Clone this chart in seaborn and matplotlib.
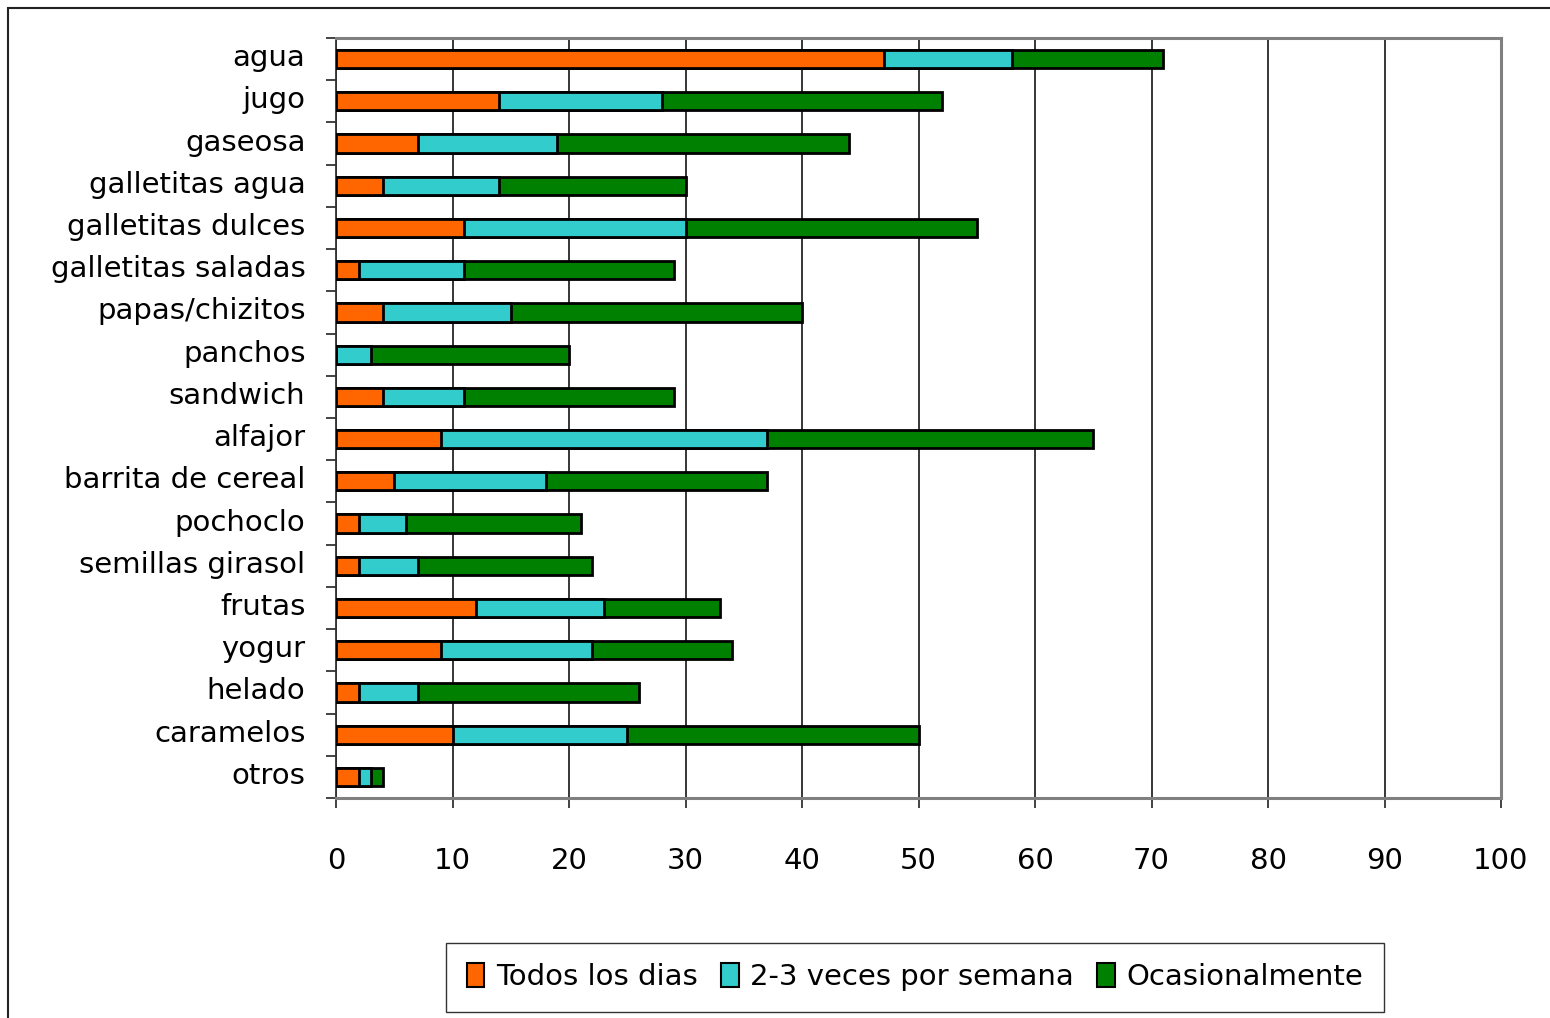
import matplotlib
matplotlib.use("Agg")
import matplotlib.pyplot as plt
import matplotlib.transforms as mtransforms
from matplotlib.patches import Patch, Rectangle
import numpy as np
import pandas as pd
import seaborn as sns

categories = ["agua", "jugo", "gaseosa", "galletitas agua", "galletitas dulces",
              "galletitas saladas", "papas/chizitos", "panchos", "sandwich", "alfajor",
              "barrita de cereal", "pochoclo", "semillas girasol", "frutas", "yogur",
              "helado", "caramelos", "otros"]
todos_los_dias = [47, 14, 7, 4, 11, 2, 4, 0, 4, 9, 5, 2, 2, 12, 9, 2, 10, 2]
veces_semana = [11, 14, 12, 10, 19, 9, 11, 3, 7, 28, 13, 4, 5, 11, 13, 5, 15, 1]
ocasionalmente = [13, 24, 25, 16, 25, 18, 25, 17, 18, 28, 19, 15, 15, 10, 12, 19, 25, 1]
series_names = ["Todos los dias", "2-3 veces por semana", "Ocasionalmente"]
series_colors = ["#FF6600", "#33CCCC", "#008000"]
x_ticks = [0, 10, 20, 30, 40, 50, 60, 70, 80, 90, 100]

sns.set_theme(style="white")
plt.rcParams["font.family"] = ["DejaVu Sans"]
plt.rcParams["text.color"] = "black"
plt.rcParams["xtick.color"] = "black"
plt.rcParams["ytick.color"] = "black"

df = pd.DataFrame({
    "cat": categories,
    "s1": todos_los_dias,
    "s2": veces_semana,
    "s3": ocasionalmente,
})
# cumulative ends for the stacked segments
df["c1"] = df["s1"]
df["c2"] = df["s1"] + df["s2"]
df["c3"] = df["s1"] + df["s2"] + df["s3"]

W, H = 1550, 1018
fig = plt.figure(figsize=(W / 100, H / 100), dpi=100)
fig.patch.set_facecolor("white")

# outer chart frame
fig.add_artist(Rectangle((8 / W, -0.05), 1.1, 1 - 8 / H + 0.05,
                         transform=fig.transFigure, fill=False,
                         edgecolor="#222222", linewidth=1.5))

ax = fig.add_axes([336 / W, 1 - 798 / H, 1165 / W, 760 / H])

bar_h = 0.43
for col, color in zip(["c3", "c2", "c1"], series_colors[::-1]):
    sns.barplot(data=df, y="cat", x=col, orient="h", color=color,
                width=bar_h, edgecolor="black", linewidth=2.0,
                saturation=1, ax=ax, zorder=3)

ax.set_xlim(0, 100)
ax.set_ylim(len(categories) - 0.5, -0.5)
ax.set_xlabel("")
ax.set_ylabel("")

ax.set_xticks(x_ticks)
ax.set_xticklabels([str(t) for t in x_ticks], fontsize=21)
ax.xaxis.grid(True, color="black", linewidth=1.1, zorder=0)
ax.yaxis.grid(False)
ax.set_axisbelow(True)

ax.set_yticks(np.arange(len(categories)))
ax.set_yticklabels(categories, fontsize=21)
ax.set_yticks(np.arange(len(categories) + 1) - 0.5, minor=True)
ax.tick_params(axis="y", which="major", length=0, pad=22, labelcolor="black")
ax.tick_params(axis="y", which="minor", length=7, width=1.2, color="#222222",
               direction="out", left=True)
ax.tick_params(axis="x", which="major", length=7, width=1.2, color="#222222",
               direction="out", bottom=True, pad=28, labelcolor="black")

# lift the category labels slightly above the bar centres
lift = mtransforms.ScaledTranslation(0, 4 / 100, fig.dpi_scale_trans)
for lbl in ax.get_yticklabels():
    lbl.set_verticalalignment("center_baseline")
    lbl.set_transform(lbl.get_transform() + lift)

for side in ["top", "right", "bottom"]:
    ax.spines[side].set_color("#808080")
    ax.spines[side].set_linewidth(2.2)
ax.spines["left"].set_color("#333333")
ax.spines["left"].set_linewidth(1.3)

handles = [Patch(facecolor=c, edgecolor="black", linewidth=1.5) for c in series_colors]
leg = fig.legend(handles, series_names, loc="center",
                 bbox_to_anchor=(915 / W, 1 - 977 / H), ncol=3, fontsize=21,
                 frameon=True, fancybox=False, edgecolor="black",
                 handlelength=0.6, handleheight=0.9, handletextpad=0.4,
                 columnspacing=0.8, borderpad=0.7, labelcolor="black")
leg.get_frame().set_linewidth(1.0)

fig.savefig("out.png", dpi=100, facecolor="white")
